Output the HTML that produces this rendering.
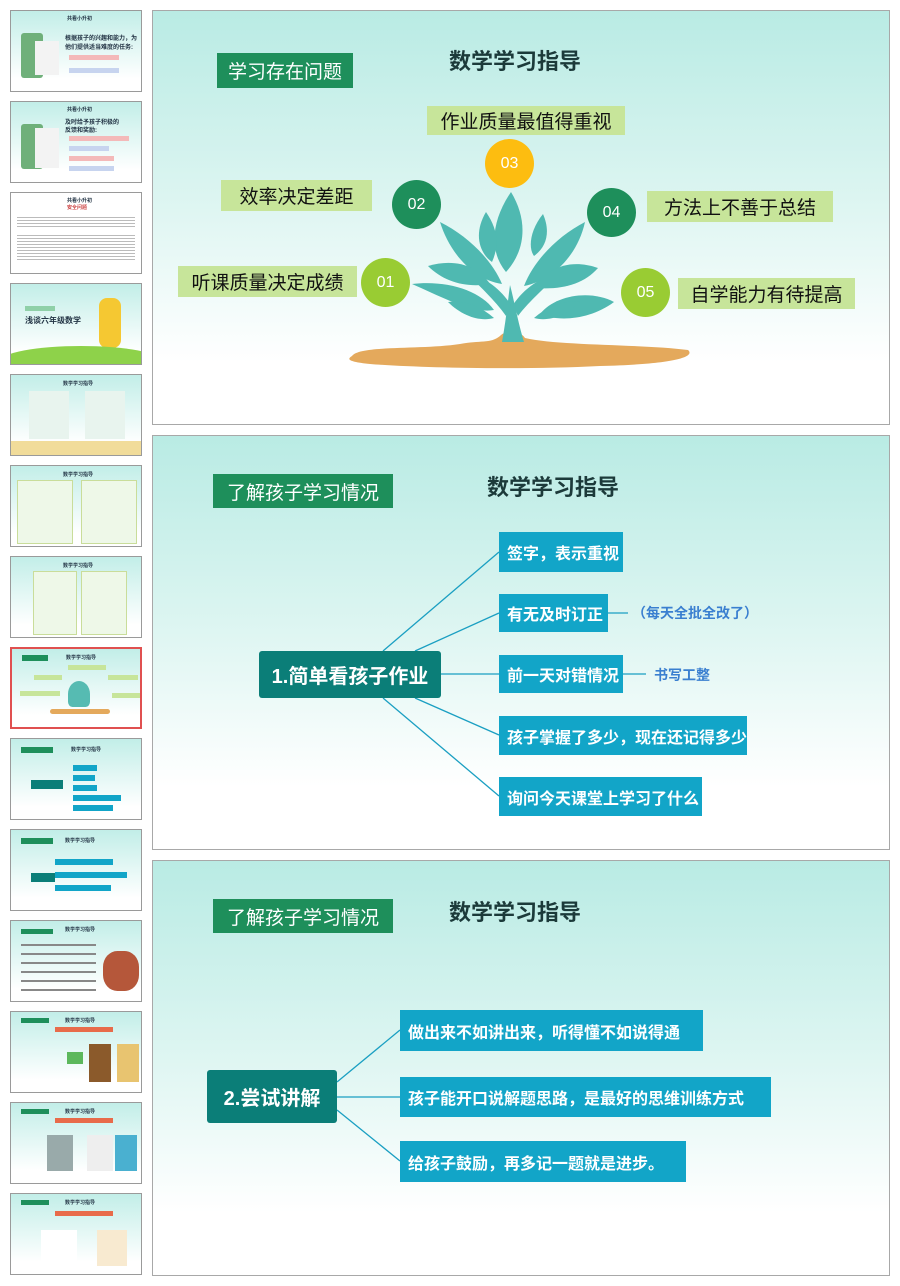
<!DOCTYPE html>
<html><head><meta charset="utf-8"><style>
*{margin:0;padding:0;box-sizing:border-box}
body{width:900px;height:1286px;background:#fff;position:relative;overflow:hidden;font-family:"Liberation Sans","Noto Sans CJK SC",sans-serif}
.a{position:absolute}
.slide{position:absolute;left:152px;width:738px;border:1px solid #a8a8a8;background:linear-gradient(#b9ebe4 0%,#dcf5f1 45%,#ffffff 85%)}
.th{position:absolute;left:10px;width:132px;height:82px;border:1px solid #9a9a9a;background:linear-gradient(#c2eee8,#ffffff 85%);overflow:hidden}
.lab{position:absolute;background:#1e8f5b;color:#fff;font-size:19px;display:flex;align-items:center;justify-content:center}
.ttl{position:absolute;font-size:22px;font-weight:bold;color:#1c3a3a;white-space:nowrap}
.lg{position:absolute;background:#c7e59a;color:#111;font-size:19px;display:flex;align-items:center;justify-content:center;white-space:nowrap}
.cir{position:absolute;border-radius:50%;color:#fff;font-size:16px;display:flex;align-items:center;justify-content:center}
.bb{position:absolute;background:#12a5c8;color:#fff;font-size:16px;font-weight:bold;display:flex;align-items:center;padding-left:8px;white-space:nowrap}
.cen{position:absolute;background:#0b7e78;color:#fff;font-size:20px;font-weight:bold;display:flex;align-items:center;justify-content:center;border-radius:3px;white-space:nowrap}
.tt{position:absolute;font-size:5px;font-weight:bold;color:#234;white-space:nowrap}
.tl{position:absolute;height:5px}
</style></head><body>

<!-- thumbnails -->
<div class="th" style="top:10px"><div class="tt" style="left:56px;top:4px">共看小升初</div><div class="a" style="left:10px;top:22px;width:22px;height:45px;background:#6fb07a;border-radius:3px"></div><div class="a" style="left:24px;top:30px;width:24px;height:34px;background:#f3f3f3"></div><div class="tt" style="left:54px;top:22px;font-size:6px">根据孩子的兴趣和能力，为</div><div class="tt" style="left:54px;top:31px;font-size:6px">他们提供适当难度的任务:</div><div class="tl" style="left:58px;top:44px;width:50px;background:#f4b9b9"></div><div class="tl" style="left:58px;top:57px;width:50px;background:#c7d4ef"></div></div>
<div class="th" style="top:101px"><div class="tt" style="left:56px;top:4px">共看小升初</div><div class="a" style="left:10px;top:22px;width:22px;height:45px;background:#6fb07a;border-radius:3px"></div><div class="a" style="left:24px;top:26px;width:24px;height:40px;background:#f3f3f3"></div><div class="tt" style="left:54px;top:15px;font-size:6px">及时给予孩子积极的</div><div class="tt" style="left:54px;top:23px;font-size:6px">反馈和奖励:</div><div class="tl" style="left:58px;top:34px;width:60px;background:#f4b9b9"></div><div class="tl" style="left:58px;top:44px;width:40px;background:#c7d4ef"></div><div class="tl" style="left:58px;top:54px;width:45px;background:#f4b9b9"></div><div class="tl" style="left:58px;top:64px;width:45px;background:#c7d4ef"></div></div>
<div class="th" style="top:192px;background:#fff"><div class="tt" style="left:56px;top:4px">共看小升初</div><div class="tt" style="left:56px;top:11px;color:#c44">安全问题</div><div class="a" style="left:6px;top:22px;width:118px;height:14px;background:repeating-linear-gradient(#fff 0 2px,#bbb 2px 3px)"></div><div class="a" style="left:6px;top:40px;width:118px;height:28px;background:repeating-linear-gradient(#fff 0 2px,#bbb 2px 3px)"></div></div>
<div class="th" style="top:283px"><div class="a" style="left:14px;top:22px;width:30px;height:5px;background:#8fd0a8"></div><div class="tt" style="left:14px;top:31px;font-size:8px">浅谈六年级数学</div><div class="a" style="left:88px;top:14px;width:22px;height:50px;background:#f5c832;border-radius:8px"></div><div class="a" style="left:-10px;top:62px;width:160px;height:30px;background:#8ed24a;border-radius:50%"></div></div>
<div class="th" style="top:374px"><div class="tt" style="left:52px;top:5px">数学学习指导</div><div class="a" style="left:18px;top:16px;width:40px;height:48px;background:#e8f4ee"></div><div class="a" style="left:74px;top:16px;width:40px;height:48px;background:#e8f4ee"></div><div class="a" style="left:0;top:66px;width:132px;height:16px;background:#f1dc9a"></div></div>
<div class="th" style="top:465px"><div class="tt" style="left:52px;top:5px">数学学习指导</div><div class="a" style="left:6px;top:14px;width:56px;height:64px;background:#eef8e8;border:1px solid #c9dd9a"></div><div class="a" style="left:70px;top:14px;width:56px;height:64px;background:#eef8e8;border:1px solid #c9dd9a"></div></div>
<div class="th" style="top:556px"><div class="tt" style="left:52px;top:5px">数学学习指导</div><div class="a" style="left:22px;top:14px;width:44px;height:64px;background:#eef8e8;border:1px solid #c9dd9a"></div><div class="a" style="left:70px;top:14px;width:46px;height:64px;background:#eef8e8;border:1px solid #c9dd9a"></div></div>
<div class="th" style="top:647px;border:2px solid #e05050"><div class="a" style="left:10px;top:6px;width:26px;height:6px;background:#1e8f5b"></div><div class="tt" style="left:54px;top:5px">数学学习指导</div><div class="a" style="left:56px;top:16px;width:38px;height:5px;background:#c7e59a"></div><div class="a" style="left:22px;top:26px;width:28px;height:5px;background:#c7e59a"></div><div class="a" style="left:96px;top:26px;width:30px;height:5px;background:#c7e59a"></div><div class="a" style="left:8px;top:42px;width:40px;height:5px;background:#c7e59a"></div><div class="a" style="left:100px;top:44px;width:30px;height:5px;background:#c7e59a"></div><div class="a" style="left:56px;top:32px;width:22px;height:26px;background:#56bbb2;border-radius:50% 50% 20% 20%"></div><div class="a" style="left:38px;top:60px;width:60px;height:5px;background:#e4a95c;border-radius:3px"></div></div>
<div class="th" style="top:738px"><div class="a" style="left:10px;top:8px;width:32px;height:6px;background:#1e8f5b"></div><div class="tt" style="left:60px;top:7px">数学学习指导</div><div class="a" style="left:20px;top:41px;width:32px;height:9px;background:#0b7e78"></div><div class="a" style="left:62px;top:26px;width:24px;height:6px;background:#12a5c8"></div><div class="a" style="left:62px;top:36px;width:22px;height:6px;background:#12a5c8"></div><div class="a" style="left:62px;top:46px;width:24px;height:6px;background:#12a5c8"></div><div class="a" style="left:62px;top:56px;width:48px;height:6px;background:#12a5c8"></div><div class="a" style="left:62px;top:66px;width:40px;height:6px;background:#12a5c8"></div></div>
<div class="th" style="top:829px"><div class="a" style="left:10px;top:8px;width:32px;height:6px;background:#1e8f5b"></div><div class="tt" style="left:54px;top:7px">数学学习指导</div><div class="a" style="left:20px;top:43px;width:24px;height:9px;background:#0b7e78"></div><div class="a" style="left:44px;top:29px;width:58px;height:6px;background:#12a5c8"></div><div class="a" style="left:44px;top:42px;width:72px;height:6px;background:#12a5c8"></div><div class="a" style="left:44px;top:55px;width:56px;height:6px;background:#12a5c8"></div></div>
<div class="th" style="top:920px"><div class="a" style="left:10px;top:8px;width:32px;height:5px;background:#1e8f5b"></div><div class="tt" style="left:54px;top:5px">数学学习指导</div><div class="a" style="left:10px;top:20px;width:75px;height:56px;background:repeating-linear-gradient(#fff0 0 3px,#888 3px 5px,#fff0 5px 9px)"></div><div class="a" style="left:92px;top:30px;width:36px;height:40px;background:#b5573a;border-radius:40%"></div></div>
<div class="th" style="top:1011px"><div class="a" style="left:10px;top:6px;width:28px;height:5px;background:#1e8f5b"></div><div class="tt" style="left:54px;top:5px">数学学习指导</div><div class="a" style="left:44px;top:15px;width:58px;height:5px;background:#e86b4a"></div><div class="a" style="left:78px;top:32px;width:22px;height:38px;background:#8b5a2b"></div><div class="a" style="left:106px;top:32px;width:22px;height:38px;background:#e8c470"></div><div class="a" style="left:56px;top:40px;width:16px;height:12px;background:#5cb85c"></div></div>
<div class="th" style="top:1102px"><div class="a" style="left:10px;top:6px;width:28px;height:5px;background:#1e8f5b"></div><div class="tt" style="left:54px;top:5px">数学学习指导</div><div class="a" style="left:44px;top:15px;width:58px;height:5px;background:#e86b4a"></div><div class="a" style="left:36px;top:32px;width:26px;height:36px;background:#9aa"></div><div class="a" style="left:76px;top:32px;width:26px;height:36px;background:#eee"></div><div class="a" style="left:104px;top:32px;width:22px;height:36px;background:#4ab0d0"></div></div>
<div class="th" style="top:1193px"><div class="a" style="left:10px;top:6px;width:28px;height:5px;background:#1e8f5b"></div><div class="tt" style="left:54px;top:5px">数学学习指导</div><div class="a" style="left:44px;top:17px;width:58px;height:5px;background:#e86b4a"></div><div class="a" style="left:30px;top:36px;width:36px;height:36px;background:#fff"></div><div class="a" style="left:86px;top:36px;width:30px;height:36px;background:#f8ead0"></div></div>

<!-- slide 1 -->
<div class="slide" style="top:10px;height:415px"></div>
<div class="lab" style="left:217px;top:53px;width:136px;height:35px">学习存在问题</div>
<div class="ttl" style="left:449px;top:44px">数学学习指导</div>
<svg class="a" style="left:0;top:0" width="900" height="430">
<path d="M352 356 C360 345 420 350 460 344 C480 340 490 344 500 336 C505 330 520 330 525 338 C560 346 640 344 688 350 C695 356 680 364 600 366 C520 370 420 368 370 364 C352 362 345 360 352 356 Z" fill="#e4a95c"/>
<g fill="#4fb9b1">
<path d="M502 342 C506 320 508 300 510 285 C514 300 518 322 524 342 Z"/>
<path d="M511 305 C500 288 485 278 462 268 C478 285 495 300 506 316 Z"/>
<path d="M513 305 C524 288 540 278 565 268 C548 285 530 300 518 316 Z"/>
<path d="M511 192 C492 220 488 250 506 272 C526 250 528 220 511 192 Z"/>
<path d="M486 212 C474 232 478 252 492 262 C500 244 497 228 486 212 Z"/>
<path d="M543 214 C530 230 528 248 534 256 C548 246 550 230 543 214 Z"/>
<path d="M440 222 C468 236 492 260 502 284 C474 280 450 254 440 222 Z"/>
<path d="M585 222 C558 236 534 260 524 286 C554 280 578 254 585 222 Z"/>
<path d="M428 266 C455 258 478 266 490 284 C466 288 444 282 428 266 Z"/>
<path d="M598 268 C570 258 546 268 536 288 C562 290 584 284 598 268 Z"/>
<path d="M412 284 C440 296 472 314 494 310 C480 290 446 280 412 284 Z"/>
<path d="M614 302 C590 320 558 322 540 314 C556 294 592 290 614 302 Z"/>
<path d="M448 302 C462 316 480 322 494 318 C480 306 465 300 448 302 Z"/>
<path d="M580 302 C566 316 548 322 534 318 C548 306 563 300 580 302 Z"/>
</g>
</svg>
<div class="lg" style="left:427px;top:106px;width:198px;height:29px">作业质量最值得重视</div>
<div class="cir" style="left:485px;top:139px;width:49px;height:49px;background:#fdbd10">03</div>
<div class="lg" style="left:221px;top:180px;width:151px;height:31px">效率决定差距</div>
<div class="cir" style="left:392px;top:180px;width:49px;height:49px;background:#1e8f5b">02</div>
<div class="cir" style="left:587px;top:188px;width:49px;height:49px;background:#1e8f5b">04</div>
<div class="lg" style="left:647px;top:191px;width:186px;height:31px">方法上不善于总结</div>
<div class="lg" style="left:178px;top:266px;width:179px;height:31px">听课质量决定成绩</div>
<div class="cir" style="left:361px;top:258px;width:49px;height:49px;background:#99cc33">01</div>
<div class="cir" style="left:621px;top:268px;width:49px;height:49px;background:#99cc33">05</div>
<div class="lg" style="left:678px;top:278px;width:177px;height:31px">自学能力有待提高</div>

<!-- slide 2 -->
<div class="slide" style="top:435px;height:415px"></div>
<div class="lab" style="left:213px;top:474px;width:180px;height:34px">了解孩子学习情况</div>
<div class="ttl" style="left:487px;top:470px">数学学习指导</div>
<svg class="a" style="left:0;top:430px" width="900" height="430">
<g stroke="#1a9fc2" stroke-width="1.3" fill="none">
<line x1="383" y1="221" x2="499" y2="122"/>
<line x1="415" y1="221" x2="499" y2="183"/>
<line x1="441" y1="244" x2="499" y2="244"/>
<line x1="415" y1="268" x2="499" y2="305"/>
<line x1="383" y1="268" x2="499" y2="366"/>
<line x1="608" y1="183" x2="628" y2="183"/>
<line x1="623" y1="244" x2="646" y2="244"/>
</g></svg>
<div class="cen" style="left:259px;top:651px;width:182px;height:47px">1.简单看孩子作业</div>
<div class="bb" style="left:499px;top:532px;width:124px;height:40px">签字，表示重视</div>
<div class="bb" style="left:499px;top:594px;width:109px;height:38px">有无及时订正</div>
<div class="bb" style="left:499px;top:655px;width:124px;height:38px">前一天对错情况</div>
<div class="bb" style="left:499px;top:716px;width:248px;height:39px">孩子掌握了多少，现在还记得多少</div>
<div class="bb" style="left:499px;top:777px;width:203px;height:39px">询问今天课堂上学习了什么</div>
<div class="a" style="left:632px;top:603px;font-size:14px;font-weight:bold;color:#3a7fd0;white-space:nowrap">（每天全批全改了）</div>
<div class="a" style="left:654px;top:665px;font-size:14px;font-weight:bold;color:#3a7fd0;white-space:nowrap">书写工整</div>

<!-- slide 3 -->
<div class="slide" style="top:860px;height:416px"></div>
<div class="lab" style="left:213px;top:899px;width:180px;height:34px">了解孩子学习情况</div>
<div class="ttl" style="left:449px;top:895px">数学学习指导</div>
<svg class="a" style="left:0;top:1000px" width="900" height="200">
<g stroke="#1a9fc2" stroke-width="1.3" fill="none">
<line x1="337" y1="82" x2="400" y2="30"/>
<line x1="337" y1="97" x2="400" y2="97"/>
<line x1="337" y1="110" x2="400" y2="161"/>
</g></svg>
<div class="cen" style="left:207px;top:1070px;width:130px;height:53px">2.尝试讲解</div>
<div class="bb" style="left:400px;top:1010px;width:303px;height:41px">做出来不如讲出来，听得懂不如说得通</div>
<div class="bb" style="left:400px;top:1077px;width:371px;height:40px">孩子能开口说解题思路，是最好的思维训练方式</div>
<div class="bb" style="left:400px;top:1141px;width:286px;height:41px">给孩子鼓励，再多记一题就是进步。</div>
</body></html>
